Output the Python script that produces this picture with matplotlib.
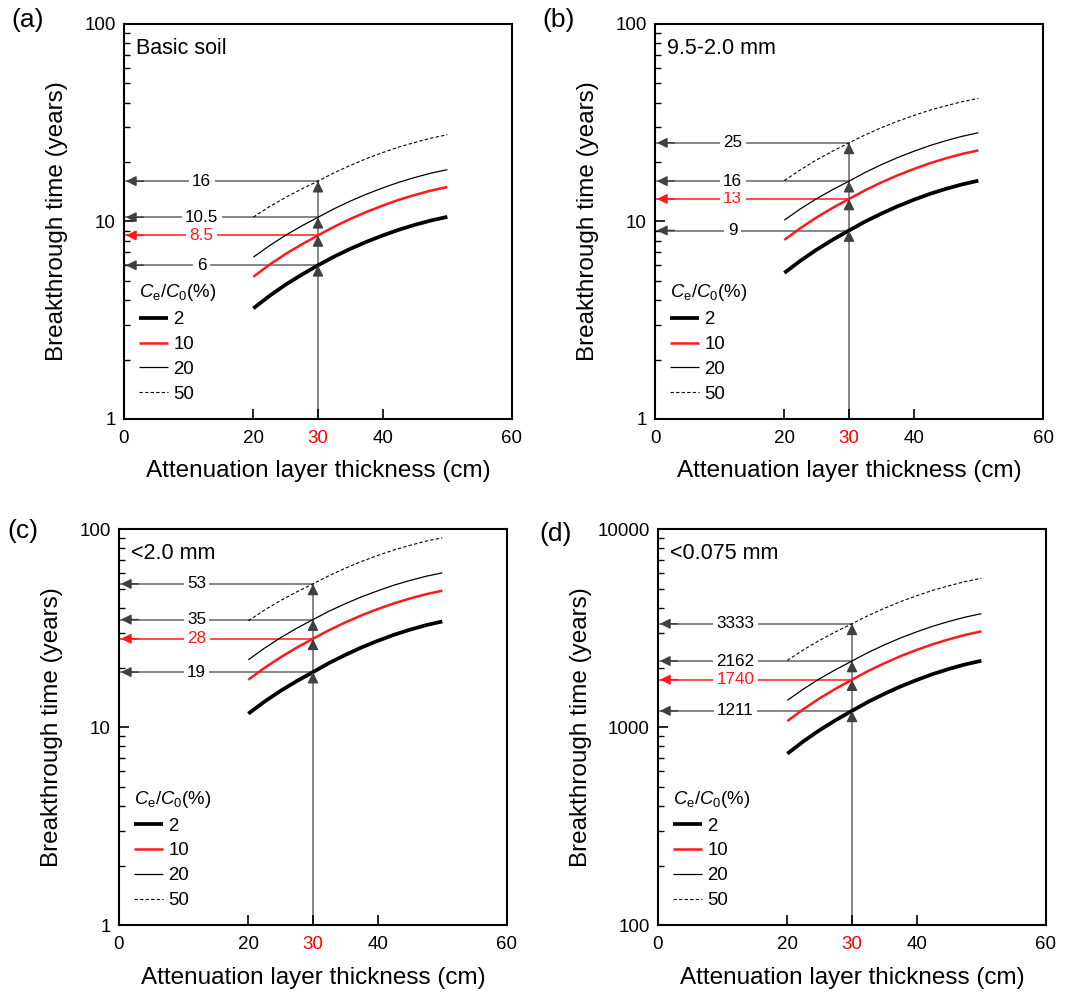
import numpy as np
import matplotlib.pyplot as plt
from matplotlib.ticker import LogLocator, NullFormatter, FuncFormatter

# 字体设置
plt.rcParams['font.family'] = ['Liberation Sans', 'DejaVu Sans']
plt.rcParams['mathtext.fontset'] = 'custom'
plt.rcParams['mathtext.rm'] = 'Liberation Sans'
plt.rcParams['mathtext.it'] = 'Liberation Sans:italic'

# 数据
thickness = [20, 22.5, 25, 27.5, 30, 32.5, 35, 37.5, 40, 42.5, 45, 47.5, 50]
ratios = ['2', '10', '20', '50']

# (a) Basic soil
a_ce2 = [3.63, 4.20, 4.79, 5.38, 6.0, 6.64, 7.27, 7.89, 8.49, 9.08, 9.62, 10.12, 10.55]
a_ce10 = [5.25, 6.04, 6.85, 7.66, 8.5, 9.41, 10.3, 11.18, 12.03, 12.87, 13.63, 14.34, 14.94]
a_ce20 = [6.6, 7.54, 8.52, 9.50, 10.5, 11.60, 12.68, 13.75, 14.78, 15.79, 16.71, 17.57, 18.29]
a_ce50 = [10.52, 11.88, 13.25, 14.62, 16.0, 17.64, 19.23, 20.81, 22.32, 23.81, 25.14, 26.42, 27.49]
a_marks = ['6', '8.5', '10.5', '16']

# (b) 9.5-2.0 mm
b_ce2 = [5.49, 6.33, 7.2, 8.09, 9.0, 9.99, 10.96, 11.93, 12.87, 13.79, 14.63, 15.41, 16.08]
b_ce10 = [8.07, 9.26, 10.49, 11.73, 13.0, 14.39, 15.76, 17.12, 18.42, 19.71, 20.89, 21.98, 22.9]
b_ce20 = [10.16, 11.59, 13.05, 14.51, 16.0, 17.71, 19.39, 21.05, 22.65, 24.22, 25.66, 26.99, 28.13]
b_ce50 = [16.1, 18.29, 20.51, 22.74, 25.0, 27.44, 29.82, 32.16, 34.38, 36.59, 38.53, 40.42, 41.98]
b_marks = ['9', '13', '16', '25']

# (c) <2.0 mm
c_ce2 = [11.72, 13.48, 15.29, 17.12, 19.0, 21.13, 23.21, 25.31, 27.32, 29.31, 31.12, 32.82, 34.25]
c_ce10 = [17.39, 19.95, 22.59, 25.27, 28.0, 30.97, 33.87, 36.76, 39.54, 42.25, 44.73, 47.03, 48.99]
c_ce20 = [21.93, 25.11, 28.36, 31.65, 35.0, 38.61, 42.1, 45.6, 48.9, 52.2, 55.15, 57.93, 60.27]
c_ce50 = [34.53, 39.1, 43.71, 48.32, 53.0, 58.39, 63.62, 68.8, 73.75, 78.64, 82.97, 87.17, 90.63]
c_marks = ['19', '28', '35', '53']

# (d) <0.075 mm
d_ce2 = [736, 850, 968, 1088, 1211, 1345, 1476, 1607, 1734, 1858, 1972, 2078, 2168]
d_ce10 = [1075, 1236, 1401, 1568, 1740, 1925, 2106, 2287, 2459, 2629, 2784, 2929, 3051]
d_ce20 = [1368, 1561, 1760, 1958, 2162, 2388, 2608, 2826, 3034, 3240, 3427, 3601, 3749]
d_ce50 = [2177, 2462, 2751, 3040, 3333, 3666, 3990, 4311, 4617, 4920, 5187, 5445, 5659]
d_marks = ['1211', '1740', '2162', '3333']

panels = [
    ('(a)', 'Basic soil', [a_ce2, a_ce10, a_ce20, a_ce50], a_marks, (1, 100)),
    ('(b)', '9.5-2.0 mm', [b_ce2, b_ce10, b_ce20, b_ce50], b_marks, (1, 100)),
    ('(c)', '<2.0 mm', [c_ce2, c_ce10, c_ce20, c_ce50], c_marks, (1, 100)),
    ('(d)', '<0.075 mm', [d_ce2, d_ce10, d_ce20, d_ce50], d_marks, (100, 10000)),
]

# 各子图位置 (像素换算)
rects = [
    [0.1161, 0.5785, 0.3633, 0.3974],
    [0.6133, 0.5785, 0.3633, 0.3974],
    [0.1114, 0.0691, 0.3633, 0.3984],
    [0.6161, 0.0691, 0.3633, 0.3984],
]
tag_pos = [(0.011, 0.992), (0.5075, 0.992), (0.0066, 0.478), (0.5047, 0.475)]
ylab_x = [-0.145, -0.145, -0.145, -0.17]

# 线型
styles = [
    dict(color='black', lw=2.7),
    dict(color='#ff1a1a', lw=1.8),
    dict(color='black', lw=0.9),
    dict(color='black', lw=0.8, ls=(0, (3, 2))),
]
gray = '#666666'
head = '#404040'
red = '#ff1a1a'

fig = plt.figure(figsize=(10.68, 9.94), dpi=100)

for k, (tag, title, curves, marks, ylim) in enumerate(panels):
    ax = fig.add_axes(rects[k])
    ax.set_yscale('log')
    ax.set_xlim(0, 60)
    ax.set_ylim(*ylim)

    # 曲线
    for vals, lab, st in zip(curves, ratios, styles):
        ax.plot(thickness, vals, label=lab, solid_capstyle='butt', **st)

    # 30 cm 处的读数箭头
    i30 = thickness.index(30)
    x30 = thickness[i30]
    vals30 = [c[i30] for c in curves]
    ax.plot([x30, x30], [ylim[0], vals30[-1]], color=gray, lw=1.1, zorder=1)
    for i, (v, m) in enumerate(zip(vals30, marks)):
        lc = red if i == 1 else gray
        hc = red if i == 1 else head
        ax.plot([0, x30], [v, v], color=lc, lw=1.1, zorder=1)
        ax.annotate('', xy=(0.3, v), xytext=(3, v),
                    arrowprops=dict(arrowstyle='-|>', color=hc, lw=1.1,
                                    mutation_scale=15, shrinkA=0, shrinkB=0))
        ax.annotate('', xy=(x30, v), xytext=(x30, v / 1.12),
                    arrowprops=dict(arrowstyle='-|>', color=head, lw=1.1,
                                    mutation_scale=16, shrinkA=0, shrinkB=0))
        ax.text(12, v, m, ha='center', va='center', fontsize=12.3,
                color=red if i == 1 else 'black', zorder=3,
                bbox=dict(boxstyle='square,pad=0.2', fc='white', ec='none'))

    # 坐标轴
    ax.set_xticks([0, 20, 30, 40, 60])
    ax.tick_params(axis='x', which='both', direction='in', length=7, width=1.2,
                   labelsize=13.5, pad=8, top=False)
    ax.get_xticklabels()[2].set_color('red')
    ax.yaxis.set_major_locator(LogLocator(base=10, numticks=10))
    ax.yaxis.set_minor_locator(LogLocator(base=10, subs=np.arange(2, 10), numticks=10))
    ax.yaxis.set_major_formatter(FuncFormatter(lambda y, p: '%g' % y))
    ax.yaxis.set_minor_formatter(NullFormatter())
    ax.tick_params(axis='y', which='major', direction='in', length=7, width=1.2,
                   labelsize=13.5, pad=6, right=False)
    ax.tick_params(axis='y', which='minor', direction='in', length=4, width=1.0,
                   right=False)
    for sp in ax.spines.values():
        sp.set_linewidth(1.5)

    ax.set_xlabel('Attenuation layer thickness (cm)', fontsize=17.5)
    ax.xaxis.set_label_coords(0.5, -0.105)
    ax.set_ylabel('Breakthrough time (years)', fontsize=17.5)
    ax.yaxis.set_label_coords(ylab_x[k], 0.5)

    ax.text(0.03, 0.965, title, transform=ax.transAxes, ha='left', va='top',
            fontsize=15.5)

    leg = ax.legend(title=r'$C_{\mathrm{e}}/C_{0}$(%)', loc='lower left',
                    bbox_to_anchor=(0.005, 0.008), frameon=False, fontsize=13.4,
                    title_fontsize=13.4, handlelength=1.55, handletextpad=0.3,
                    labelspacing=0.42, borderpad=0.2, alignment='left')

    fig.text(tag_pos[k][0], tag_pos[k][1], tag, ha='left', va='top', fontsize=19)

plt.savefig('out.png', dpi=100)
